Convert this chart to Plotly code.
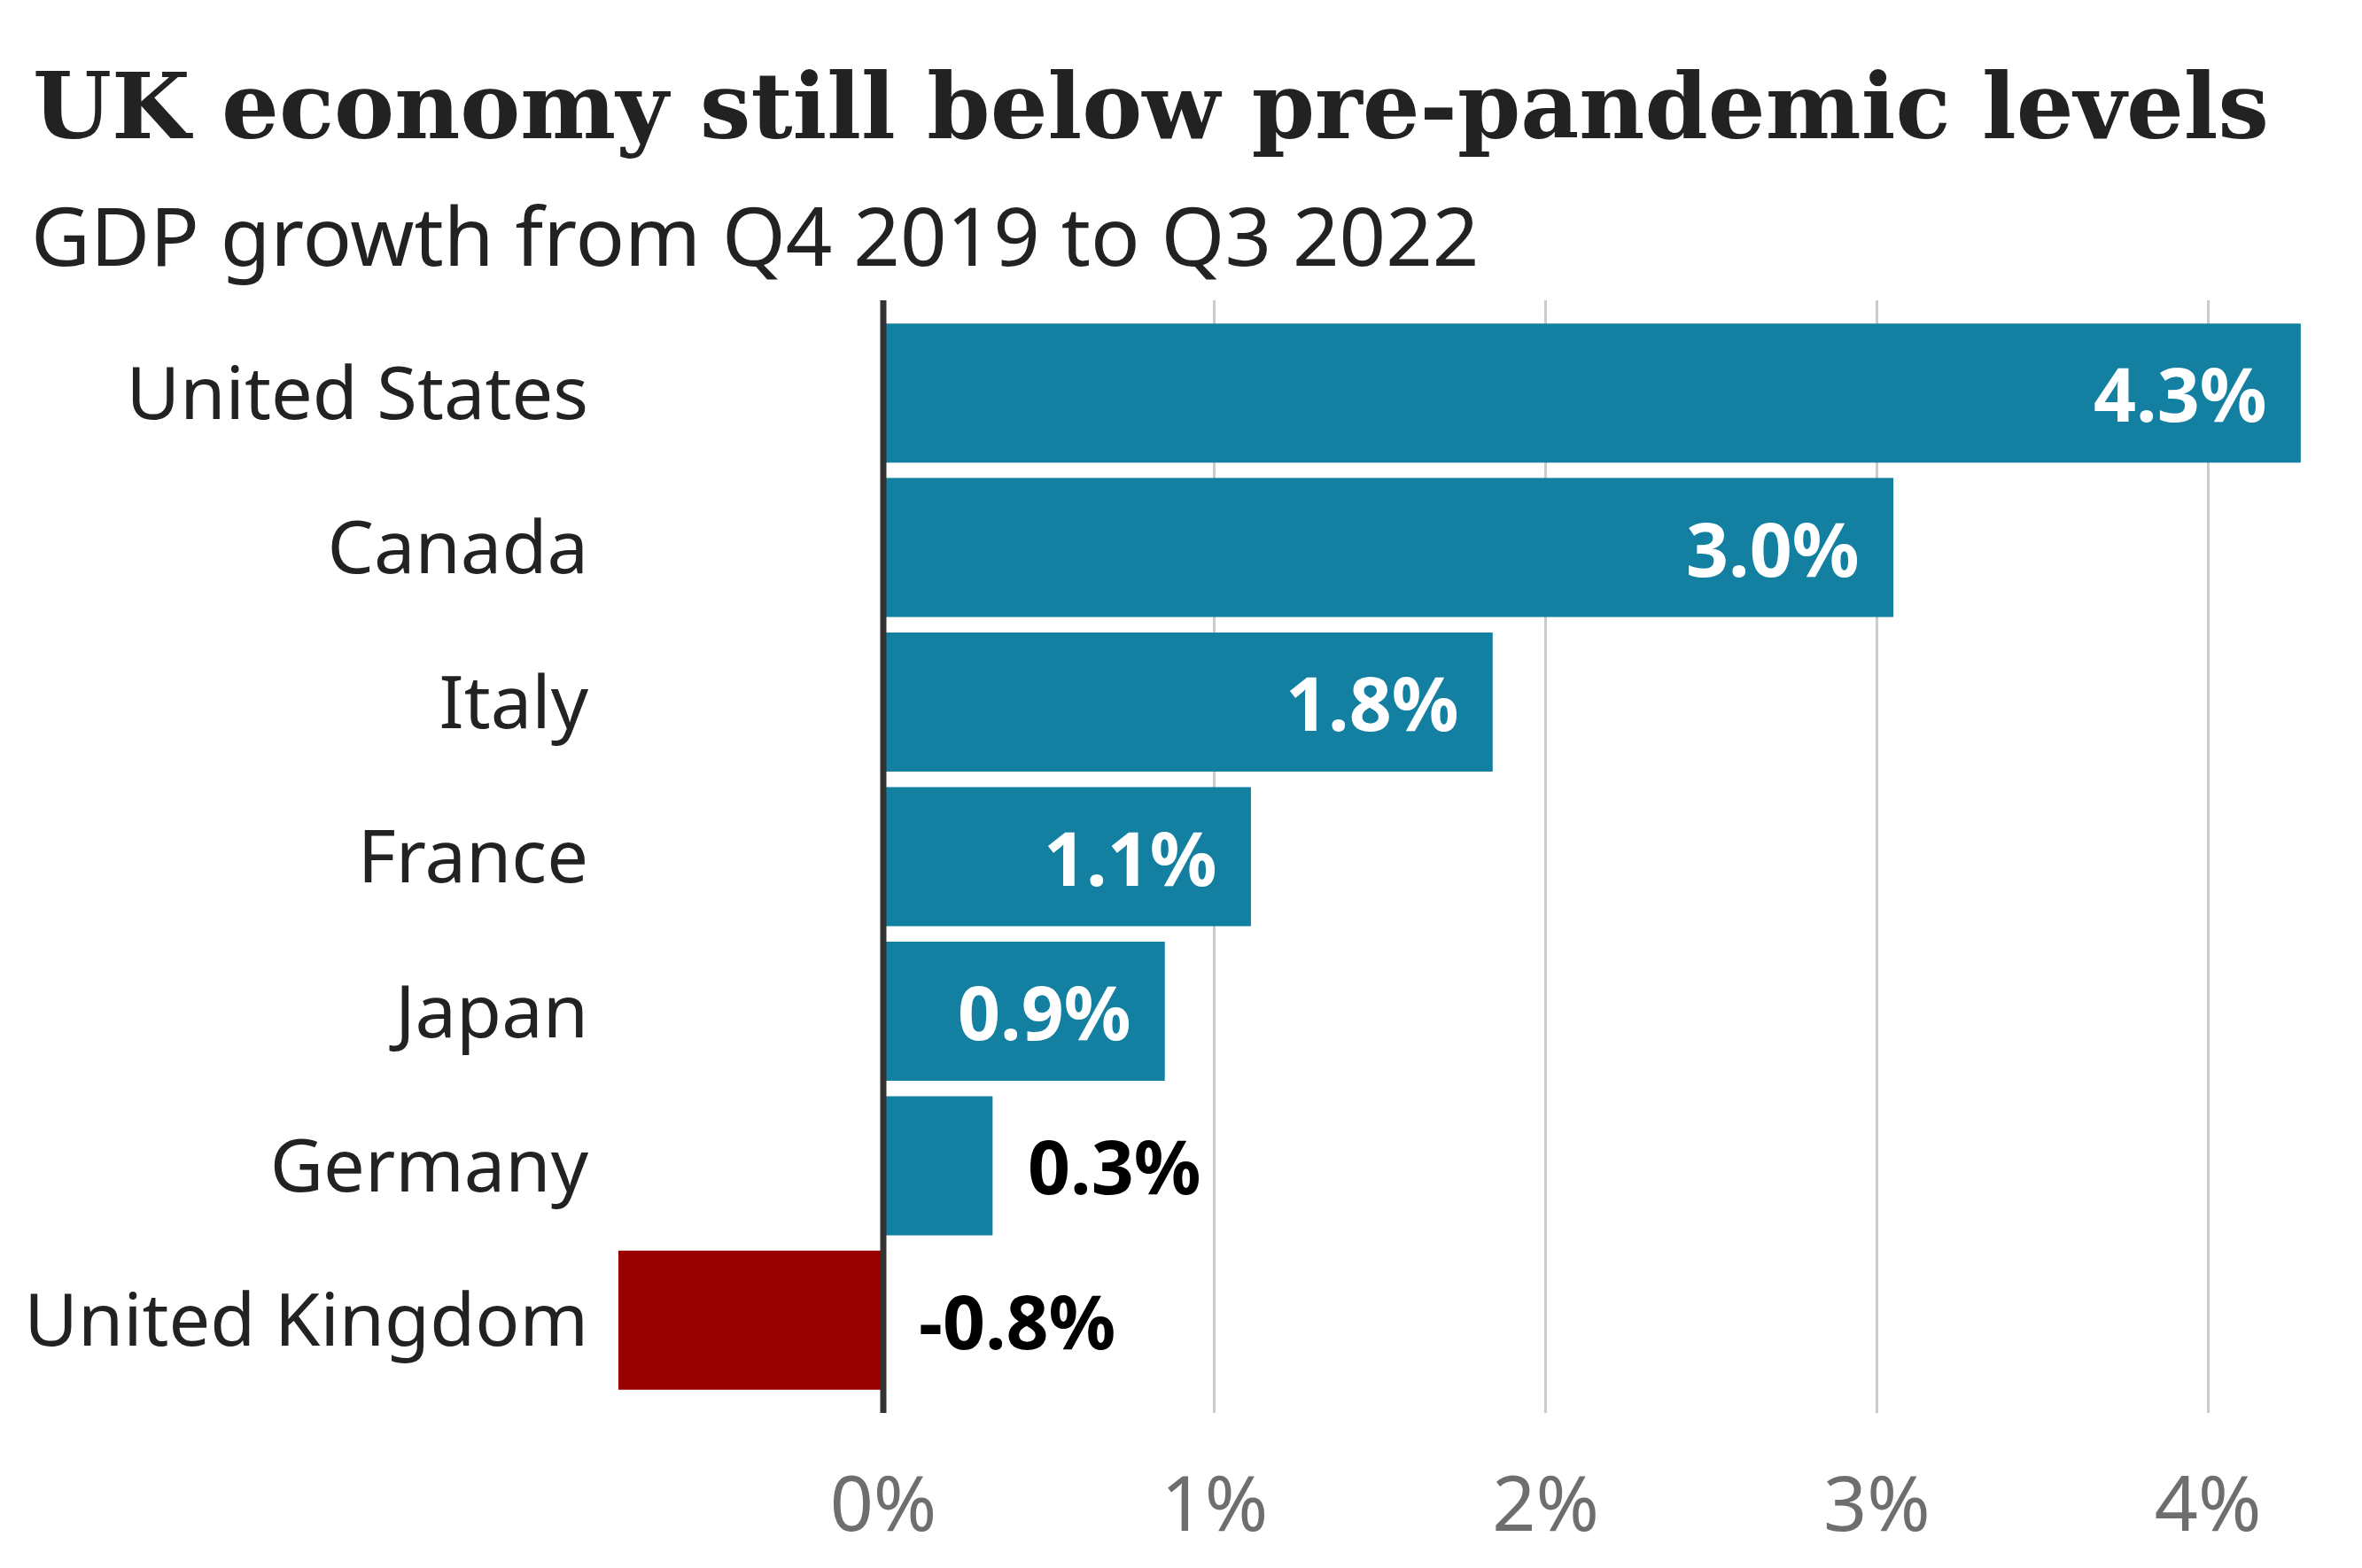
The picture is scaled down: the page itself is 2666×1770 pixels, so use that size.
import plotly.graph_objects as go

countries = ["United States", "Canada", "Italy", "France", "Japan", "Germany", "United Kingdom"]
growth = [4.28, 3.05, 1.84, 1.11, 0.85, 0.33, -0.80]
value_labels = ["4.3%", "3.0%", "1.8%", "1.1%", "0.9%", "0.3%", "-0.8%"]
label_inside = [True, True, True, True, True, False, False]
tick_vals = [0, 1, 2, 3, 4]
tick_text = ["0%", "1%", "2%", "3%", "4%"]

BLUE = "#1380a1"
RED = "#990000"
bar_colors = [RED if v < 0 else BLUE for v in growth]

W, H = 2666, 1770
L, R, T, B = 690, 56, 339, 175

fig = go.Figure()
fig.add_trace(go.Bar(
    x=growth, y=countries, orientation="h",
    marker=dict(color=bar_colors, line=dict(width=0)),
    hoverinfo="skip",
))

annotations = []
for c, v, lab, ins in zip(countries, growth, value_labels, label_inside):
    if ins:
        annotations.append(dict(x=v, y=c, xref="x", yref="y", text=f"<b>{lab}</b>",
                                showarrow=False, xanchor="right", xshift=-37,
                                font=dict(family="Noto Sans", size=84, color="white")))
    else:
        annotations.append(dict(x=max(v, 0), y=c, xref="x", yref="y", text=f"<b>{lab}</b>",
                                showarrow=False, xanchor="left", xshift=38,
                                font=dict(family="Noto Sans", size=84, color="black")))

pw = W - L - R
ph = H - T - B
def px_x(p):
    return (p - L) / pw
def px_y(p):
    return (H - B - p) / ph

annotations.append(dict(xref="paper", yref="paper", x=px_x(35), y=px_y(120), xanchor="left", yanchor="middle",
                        text="<b>UK economy still below pre-pandemic levels</b>", showarrow=False,
                        font=dict(family="DejaVu Serif", size=102, color="#222222")))
annotations.append(dict(xref="paper", yref="paper", x=px_x(33), y=px_y(264), xanchor="left", yanchor="middle",
                        text="GDP growth from Q4 2019 to Q3 2022", showarrow=False,
                        font=dict(family="Noto Sans", size=92, color="#222222")))

fig.add_shape(type="line", xref="x", yref="paper", x0=0, x1=0, y0=0, y1=1,
              line=dict(color="#333333", width=7), layer="above")

fig.update_layout(
    width=W, height=H,
    margin=dict(l=L, r=R, t=T, b=B, pad=0),
    paper_bgcolor="white", plot_bgcolor="white",
    showlegend=False,
    bargap=0.1,
    annotations=annotations,
    xaxis=dict(
        range=[(L - 997) / 373.8, (W - R - 997) / 373.8],
        tickvals=tick_vals, ticktext=tick_text,
        showgrid=True, gridcolor="#cbcbcb", gridwidth=3,
        zeroline=False,
        showline=False, ticks="",
        tickfont=dict(family="Noto Sans", size=86, color="#6e6e6e"),
        ticklabelstandoff=46,
    ),
    yaxis=dict(
        categoryorder="array", categoryarray=countries,
        range=[6.6, -0.6],
        showgrid=False, zeroline=False, showline=False, ticks="",
        tickfont=dict(family="Noto Sans", size=83, color="#222222"),
        ticklabelstandoff=25,
    ),
)

fig.write_html("out.html")
